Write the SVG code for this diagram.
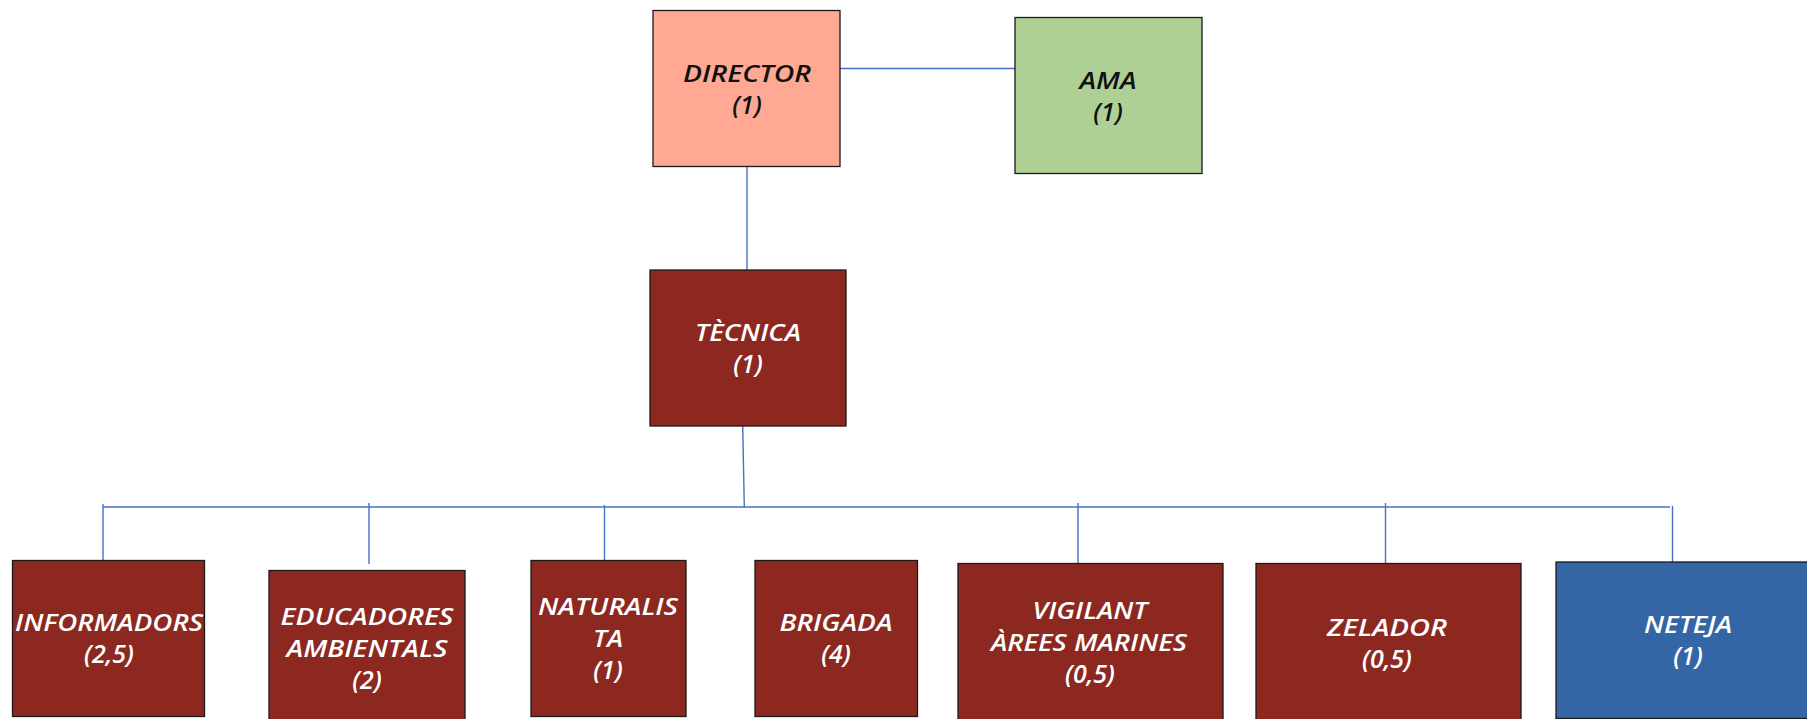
<svg xmlns="http://www.w3.org/2000/svg" width="1807" height="719" viewBox="0 0 1807 719">
<style>
.box{stroke:#1a1a1a;stroke-width:1.3}
.red{fill:#8C281F}
.t{font-family:"Open Sans","DejaVu Sans",sans-serif;font-style:italic;font-weight:600;font-size:24px;text-anchor:middle}
.n{font-size:25px}
.w{fill:#ffffff}
.k{fill:#111111}
.ln{stroke:#4472C4;stroke-width:1.4;fill:none}
</style>
<rect width="1807" height="719" fill="#ffffff"/>
<g id="connectors">
<line class="ln" x1="840" y1="68.5" x2="1015" y2="68.5"/>
<line class="ln" x1="747" y1="166" x2="747" y2="270"/>
<line class="ln" x1="742.7" y1="426" x2="744.3" y2="507"/>
<line class="ln" x1="103" y1="507" x2="1670" y2="507"/>
<line class="ln" x1="103" y1="504" x2="103" y2="561"/>
<line class="ln" x1="369" y1="503" x2="369" y2="564"/>
<line class="ln" x1="604.5" y1="505" x2="604.5" y2="566"/>
<line class="ln" x1="1078" y1="503" x2="1078" y2="564"/>
<line class="ln" x1="1385.5" y1="503" x2="1385.5" y2="564"/>
<line class="ln" x1="1672.5" y1="506" x2="1672.5" y2="562"/>
</g>
<g id="director">
<rect class="box" x="653" y="10.5" width="187" height="156" fill="#FFA994"/>
<text class="t k" x="747" y="82" textLength="128" lengthAdjust="spacingAndGlyphs">DIRECTOR</text>
<text class="t n k" x="747" y="114">(1)</text>
</g>
<g id="ama">
<rect class="box" x="1015" y="17.5" width="187" height="156" fill="#AED095"/>
<text class="t k" x="1108" y="89" textLength="57" lengthAdjust="spacingAndGlyphs">AMA</text>
<text class="t n k" x="1108" y="121">(1)</text>
</g>
<g id="tecnica">
<rect class="box red" x="650" y="270" width="196" height="156"/>
<text class="t w" x="748" y="341" textLength="106" lengthAdjust="spacingAndGlyphs">TÈCNICA</text>
<text class="t n w" x="748" y="373">(1)</text>
</g>
<g id="informadors">
<rect class="box red" x="12.5" y="560.5" width="192" height="156"/>
<text class="t w" x="109" y="631" textLength="188" lengthAdjust="spacingAndGlyphs">INFORMADORS</text>
<text class="t n w" x="109" y="663">(2,5)</text>
</g>
<g id="educadors">
<rect class="box red" x="269" y="570.5" width="196" height="160"/>
<text class="t w" x="367" y="625" textLength="173" lengthAdjust="spacingAndGlyphs">EDUCADORES</text>
<text class="t w" x="367" y="657" textLength="161" lengthAdjust="spacingAndGlyphs">AMBIENTALS</text>
<text class="t n w" x="367" y="689">(2)</text>
</g>
<g id="naturalista">
<rect class="box red" x="531" y="560.5" width="155" height="156"/>
<text class="t w" x="608" y="615" textLength="140" lengthAdjust="spacingAndGlyphs">NATURALIS</text>
<text class="t w" x="608" y="647" textLength="30" lengthAdjust="spacingAndGlyphs">TA</text>
<text class="t n w" x="608" y="679">(1)</text>
</g>
<g id="brigada">
<rect class="box red" x="755" y="560.5" width="162.5" height="156"/>
<text class="t w" x="836" y="631" textLength="113" lengthAdjust="spacingAndGlyphs">BRIGADA</text>
<text class="t n w" x="836" y="663">(4)</text>
</g>
<g id="vigilant">
<rect class="box red" x="958" y="563.5" width="265" height="160"/>
<text class="t w" x="1090" y="619" textLength="115" lengthAdjust="spacingAndGlyphs">VIGILANT</text>
<text class="t w" x="1089" y="651" textLength="196" lengthAdjust="spacingAndGlyphs">ÀREES MARINES</text>
<text class="t n w" x="1090" y="683">(0,5)</text>
</g>
<g id="zelador">
<rect class="box red" x="1256" y="563.5" width="265" height="160"/>
<text class="t w" x="1387" y="636" textLength="120" lengthAdjust="spacingAndGlyphs">ZELADOR</text>
<text class="t n w" x="1387" y="668">(0,5)</text>
</g>
<g id="neteja">
<rect class="box" x="1556" y="562" width="260" height="156.5" fill="#3465A4"/>
<text class="t w" x="1688" y="633" textLength="88" lengthAdjust="spacingAndGlyphs">NETEJA</text>
<text class="t n w" x="1688" y="665">(1)</text>
</g>
</svg>
